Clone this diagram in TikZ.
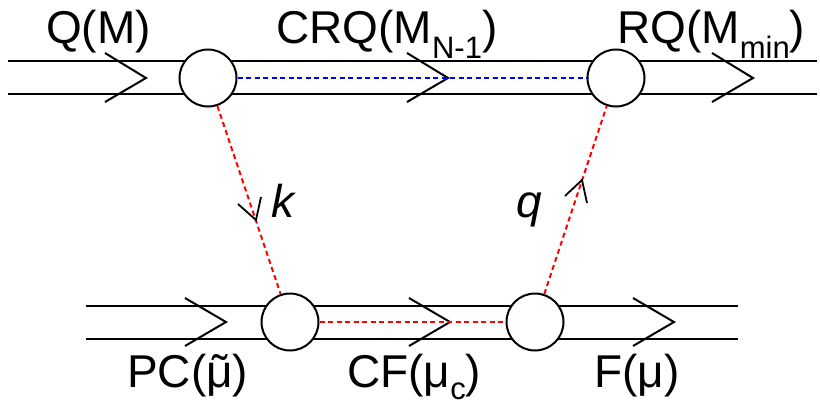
\documentclass[tikz,border=0pt]{standalone}
\usepackage{fontspec}
\setmainfont{Liberation Sans}
\newcommand{\bigtxt}{\fontsize{46}{50}\selectfont}
\newcommand{\subtxt}[2][15pt]{\raisebox{-#1}{\fontsize{31}{31}\selectfont #2}}
\newcommand{\tildemu}{\ooalign{μ\cr\hidewidth ˜\hidewidth\cr}}
\begin{document}
\begin{tikzpicture}[x=1pt,y=-1pt,
  pipe/.style={line width=2pt},
  chev/.style={line width=2pt,line join=miter},
  smallchev/.style={line width=1.8pt},
  vertex/.style={circle,draw,line width=2pt,fill=white,minimum size=57pt,inner sep=0pt},
  bluedash/.style={draw=blue,line width=2pt,dash pattern=on 5pt off 3.5pt},
  reddash/.style={draw=red,line width=2pt,dash pattern=on 5pt off 3.5pt},
  lbl/.style={inner sep=0pt,anchor=base west,font=\bigtxt}]
\useasboundingbox (0,0) rectangle (820,405);
% top pipe
\draw[pipe] (8,61) -- (817,61);
\draw[pipe] (8,94) -- (817,94);
% bottom pipe
\draw[pipe] (86,306) -- (738,306);
\draw[pipe] (86,339) -- (738,339);
% chevrons top
\draw[chev] (105,53) -- (146,78) -- (105,102);
\draw[chev] (407,53) -- (448,78) -- (407,102);
\draw[chev] (712,53) -- (753,78) -- (712,102);
% chevrons bottom
\draw[chev] (185,298) -- (226,322) -- (185,346);
\draw[chev] (409,298) -- (450,322) -- (409,346);
\draw[chev] (633,298) -- (674,322) -- (633,346);
% vertices
\node[vertex] (t1) at (208,78) {};
\node[vertex] (t2) at (616,78) {};
\node[vertex] (b1) at (290,322) {};
\node[vertex] (b2) at (535,322) {};
% dashed propagators
\draw[bluedash] (t1) -- (t2);
\draw[reddash] (b1) -- (b2);
\draw[reddash] (t1) -- (b1);
\draw[reddash] (b2) -- (t2);
% small arrows on diagonals
\draw[smallchev] (238,204) -- (256,220) -- (261,197);
\draw[smallchev] (565,196) -- (582,180) -- (587,203);
% labels
\node[lbl] (lq) at (46,43) {Q(M)};
\node[lbl] (lcrq) at (276,43) {CRQ(M\subtxt{N-1})};
\node[lbl] (lrq) at (617,43) {RQ(M\subtxt{min})};
\node[lbl] (lk) at (271,217) {\itshape k};
\node[lbl] (lqq) at (516,217) {\itshape q};
\node[lbl] (lpc) at (127,387) {PC(\tildemu)};
\node[lbl] (lcf) at (347,387) {CF(μ\subtxt[12pt]{c})};
\node[lbl] (lf) at (594,387) {F(μ)};
\end{tikzpicture}
\end{document}
